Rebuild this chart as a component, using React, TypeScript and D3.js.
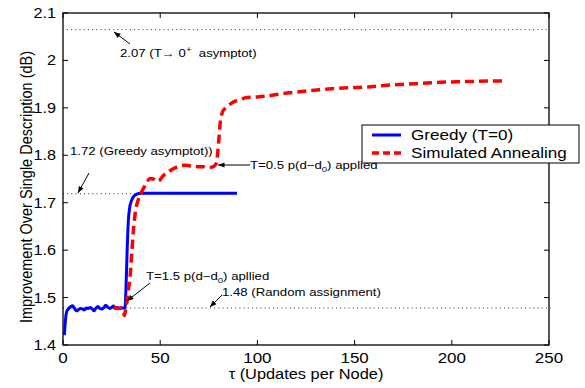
import { useMemo, type ReactNode } from "react";
import { scaleLinear, line, curveMonotoneX } from "d3";

const W = 585;
const H = 388;
const M = { left: 63, right: 549, top: 13, bottom: 345 };

const xTicks = [0, 50, 100, 150, 200, 250];
const yTicks = [1.4, 1.5, 1.6, 1.7, 1.8, 1.9, 2.0, 2.1];

const greedyTau = [0.7, 1.2, 1.9, 3, 4, 5, 6, 7, 8, 9, 10, 11, 12, 13, 14, 15, 16, 17, 18, 19, 20, 21, 22, 23, 24, 25, 26, 27, 28, 29, 30, 31, 31.9, 32.4, 33, 33.6, 34.3, 35.3, 36.5, 37.9, 40, 50, 60, 70, 80, 89.5];
const greedyVal = [1.421, 1.45, 1.47, 1.477, 1.481, 1.483, 1.476, 1.472, 1.475, 1.477, 1.476, 1.474, 1.478, 1.477, 1.479, 1.476, 1.472, 1.478, 1.481, 1.477, 1.476, 1.479, 1.484, 1.48, 1.477, 1.479, 1.482, 1.478, 1.479, 1.477, 1.478, 1.478, 1.478, 1.52, 1.6, 1.66, 1.69, 1.705, 1.714, 1.718, 1.72, 1.72, 1.72, 1.72, 1.72, 1.72];

const saTau = [26, 28, 30, 31, 31.5, 32, 32.8, 33.6, 34.5, 35.4, 36.2, 37.2, 38.7, 40.5, 42.5, 44.8, 46.5, 48, 49.9, 51.5, 53.3, 56, 58.5, 60.5, 62.8, 65, 67, 69.5, 72.2, 74.5, 76.5, 78, 79, 79.7, 80.3, 80.8, 81.4, 82.2, 83.2, 84.2, 86, 88, 91, 94.5, 100, 105, 111, 117, 124, 132, 141, 151, 160, 168, 177, 185, 194, 202.5, 214, 226.5];
const saVal = [1.479, 1.477, 1.478, 1.475, 1.462, 1.47, 1.488, 1.515, 1.544, 1.595, 1.642, 1.68, 1.706, 1.723, 1.738, 1.751, 1.75, 1.745, 1.748, 1.757, 1.762, 1.77, 1.775, 1.778, 1.779, 1.778, 1.777, 1.776, 1.776, 1.774, 1.775, 1.778, 1.785, 1.81, 1.84, 1.865, 1.882, 1.893, 1.898, 1.902, 1.908, 1.913, 1.917, 1.922, 1.923, 1.925, 1.929, 1.932, 1.935, 1.938, 1.941, 1.943, 1.945, 1.948, 1.95, 1.952, 1.954, 1.955, 1.956, 1.957];

// reference lines: [value, tauStart, tauEnd]
const refLines: [number, number, number][] = [
  [2.065, 2, 250],
  [1.719, 0, 89],
  [1.478, 0, 251],
];

const FONT = "'Liberation Sans', Arial, Helvetica, sans-serif";

// the reference looks horizontally stretched, so texts get a small x scale
function T({ x, y, size, sx = 1.2, anchor = "start", children }: { x: number; y: number; size: number; sx?: number; anchor?: string; children: ReactNode }) {
  return (
    <text transform={`translate(${x},${y}) scale(${sx},1)`} fontSize={size} textAnchor={anchor}>
      {children}
    </text>
  );
}

function Arrow({ x1, y1, x2, y2 }: { x1: number; y1: number; x2: number; y2: number }) {
  const a = Math.atan2(y2 - y1, x2 - x1);
  const L = 7;
  const s = 0.38;
  const p1 = [x2 - L * Math.cos(a - s), y2 - L * Math.sin(a - s)];
  const p2 = [x2 - L * Math.cos(a + s), y2 - L * Math.sin(a + s)];
  return (
    <g>
      <line x1={x1} y1={y1} x2={x2} y2={y2} stroke="#000" strokeWidth={1} />
      <path d={`M${x2},${y2}L${p1[0]},${p1[1]}L${p2[0]},${p2[1]}Z`} fill="#000" />
    </g>
  );
}

export default function App() {
  const x = useMemo(() => scaleLinear().domain([0, 250]).range([M.left, M.right]), []);
  const y = useMemo(() => scaleLinear().domain([1.4, 2.1]).range([M.bottom, M.top]), []);

  const mk = (taus: number[], vals: number[]) =>
    line<number>()
      .x((t) => x(t))
      .y((_, i) => y(vals[i]))
      .curve(curveMonotoneX)(taus) ?? "";

  const greedyPath = mk(greedyTau, greedyVal);
  const saPath = mk(saTau, saVal);

  return (
    <svg width={W} height={H} style={{ position: "absolute", left: 0, top: 0, background: "#fff" }} fontFamily={FONT}>
      <rect width={W} height={H} fill="#fff" />

      {refLines.map(([v, a, b], i) => (
        <line key={i} x1={x(a)} x2={x(b)} y1={y(v)} y2={y(v)} stroke="#333" strokeWidth={1} strokeDasharray="1,3.2" />
      ))}

      {/* axes box */}
      <rect x={M.left} y={M.top} width={M.right - M.left} height={M.bottom - M.top} fill="none" stroke="#000" strokeWidth={1.3} />
      {xTicks.map((t) => (
        <g key={t}>
          <line x1={x(t)} x2={x(t)} y1={M.bottom} y2={M.bottom - 5} stroke="#000" />
          <line x1={x(t)} x2={x(t)} y1={M.top} y2={M.top + 5} stroke="#000" />
          <T x={x(t)} y={363} size={14.5} sx={1.17} anchor="middle">{t}</T>
        </g>
      ))}
      {yTicks.map((t) => (
        <g key={t}>
          <line x1={M.left} x2={M.left + 5} y1={y(t)} y2={y(t)} stroke="#000" />
          <line x1={M.right} x2={M.right - 5} y1={y(t)} y2={y(t)} stroke="#000" />
          <T x={56} y={y(t) + 5} size={14.5} sx={1.12} anchor="end">{t === 2 ? "2" : t.toFixed(1)}</T>
        </g>
      ))}

      {/* data */}
      <path d={greedyPath} fill="none" stroke="#0000ff" strokeWidth={3} strokeLinejoin="round" />
      <path d={saPath} fill="none" stroke="#ff0000" strokeWidth={3.5} strokeDasharray="9,5" />

      {/* annotations */}
      <Arrow x1={130} y1={44} x2={114} y2={32} />
      <T x={120} y={57} size={11}>
        2.07 (T→ 0<tspan dy={-5} fontSize={8}>+</tspan><tspan dy={5}>{"\u00a0 asymptot)"}</tspan>
      </T>

      <T x={70} y={155} size={11}>1.72 (Greedy asymptot))</T>
      <Arrow x1={89} y1={173} x2={78} y2={193} />

      <Arrow x1={250} y1={165} x2={218} y2={165} />
      <T x={250} y={169} size={11}>
        T=0.5 p(d−d<tspan dy={3} fontSize={8}>0</tspan><tspan dy={-3}>) applied</tspan>
      </T>

      <T x={146} y={280} size={11}>
        T=1.5 p(d−d<tspan dy={3} fontSize={8}>0</tspan><tspan dy={-3}>) apllied</tspan>
      </T>
      <Arrow x1={150} y1={283} x2={127} y2={301} />

      <T x={222} y={296} size={11}>1.48 (Random assignment)</T>
      <Arrow x1={222} y1={295} x2={210} y2={307} />

      {/* legend */}
      <rect x={362} y={125} width={217} height={38} fill="#fff" stroke="#000" strokeWidth={1} />
      <line x1={372} x2={401} y1={135} y2={135} stroke="#0000ff" strokeWidth={3} />
      <T x={411} y={140} size={14.5} sx={1.18}>Greedy (T=0)</T>
      <line x1={372} x2={401} y1={153} y2={153} stroke="#ff0000" strokeWidth={3.5} strokeDasharray="7,4" />
      <T x={411} y={158} size={14.5} sx={1.18}>Simulated Annealing</T>

      {/* axis labels */}
      <T x={306} y={379} size={14} sx={1.17} anchor="middle">τ (Updates per Node)</T>
      <text transform="translate(32,187) rotate(-90) scale(1,1.15)" fontSize={14.5} textAnchor="middle">
        Improvement Over Single Description (dB)
      </text>
    </svg>
  );
}
